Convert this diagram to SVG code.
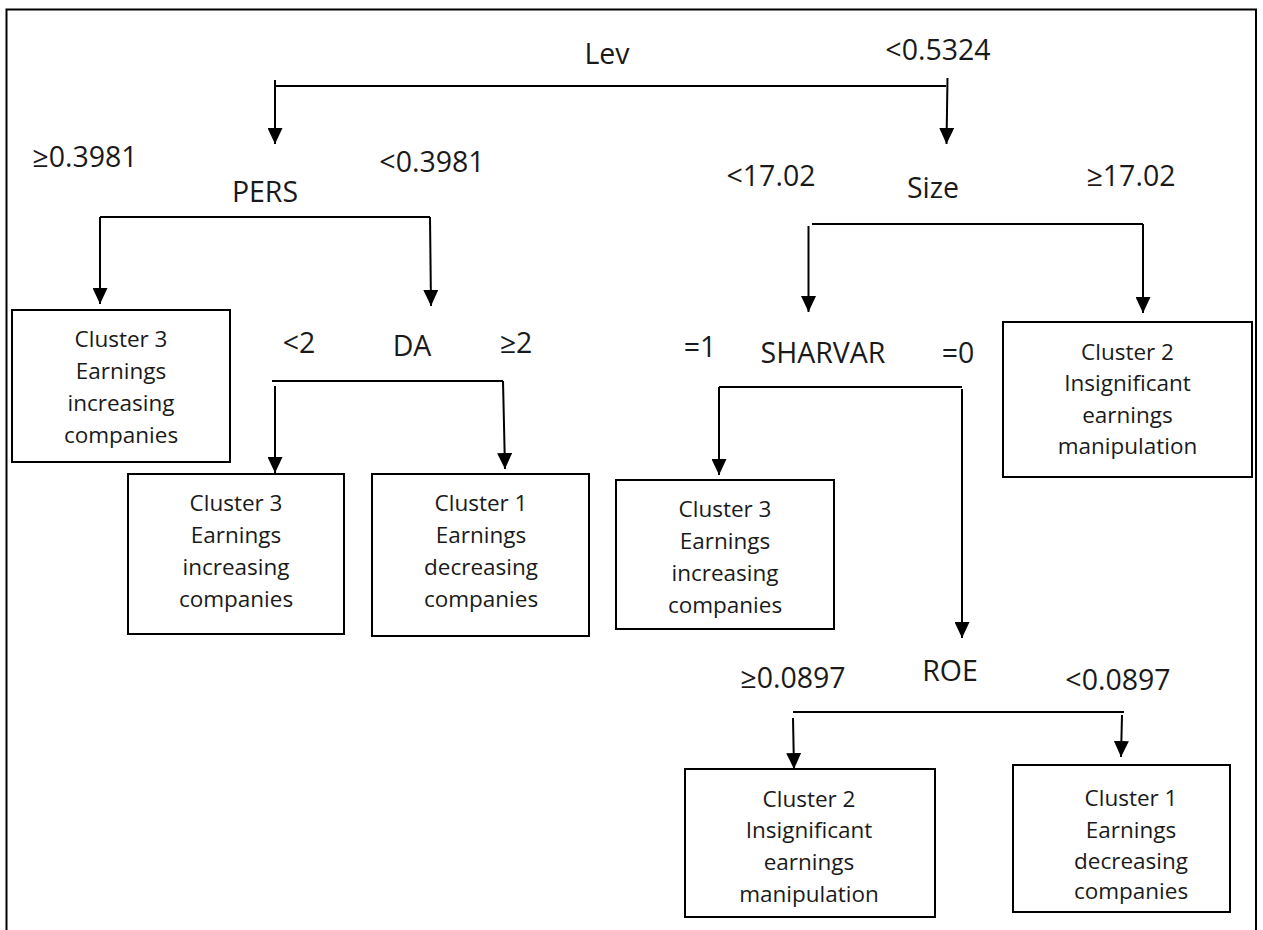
<svg xmlns="http://www.w3.org/2000/svg" width="1263" height="930" viewBox="0 0 1263 930">
<defs>
<style>
.lbl{font-family:"Open Sans","Liberation Sans",sans-serif;font-size:28.5px;fill:#1a1a1a;text-anchor:middle}
.bt{font-family:"Open Sans","Liberation Sans",sans-serif;font-size:22.5px;fill:#1a1a1a;text-anchor:middle}
.box{fill:#fff;stroke:#000;stroke-width:2}
.ln{fill:none;stroke:#000;stroke-width:2}
.arr{fill:none;stroke:#000;stroke-width:2;marker-end:url(#ah)}
</style>
<marker id="ah" markerUnits="userSpaceOnUse" markerWidth="16" markerHeight="15" refX="16" refY="7.5" orient="auto" viewBox="0 0 16 15">
<path d="M0,0 L16,7.5 L0,15 z" fill="#000"/>
</marker>
</defs>
<rect width="1263" height="930" fill="#fff"/>
<path d="M6.5,935 V9.5 H1256 V935" fill="none" stroke="#000" stroke-width="2"/>

<g id="labels">
<text class="lbl" x="607" y="64">Lev</text>
<text class="lbl" x="938" y="60">&lt;0.5324</text>
<text class="lbl" x="85" y="167">≥0.3981</text>
<text class="lbl" x="265" y="202">PERS</text>
<text class="lbl" x="432" y="172">&lt;0.3981</text>
<text class="lbl" x="771" y="186">&lt;17.02</text>
<text class="lbl" x="933" y="198">Size</text>
<text class="lbl" x="1131" y="186">≥17.02</text>
<text class="lbl" x="299" y="353">&lt;2</text>
<text class="lbl" x="412" y="356">DA</text>
<text class="lbl" x="516" y="353">≥2</text>
<text class="lbl" x="700" y="357">=1</text>
<text class="lbl" x="823" y="363">SHARVAR</text>
<text class="lbl" x="958" y="363">=0</text>
<text class="lbl" x="950" y="681">ROE</text>
<text class="lbl" x="793" y="688">≥0.0897</text>
<text class="lbl" x="1118" y="690">&lt;0.0897</text>
</g>

<g id="connectors">
<path class="ln" d="M275,80 V86 H946"/>
<path class="arr" d="M275,86 V144"/>
<path class="arr" d="M947.5,78 L946.5,144"/>
<path class="ln" d="M100,217 H430"/>
<path class="arr" d="M100,217 V304"/>
<path class="arr" d="M430,217 L431,306"/>
<path class="ln" d="M272,381 H503"/>
<path class="arr" d="M275,386 V473"/>
<path class="arr" d="M503,381 L505,469"/>
<path class="ln" d="M812,224 H1143"/>
<path class="arr" d="M808.5,226 V312"/>
<path class="arr" d="M1143,224 V313"/>
<path class="ln" d="M719,387 H962"/>
<path class="arr" d="M719,387 V475"/>
<path class="arr" d="M962,389 V638"/>
<path class="ln" d="M793,712 H1124"/>
<path class="arr" d="M793,718 L794,769"/>
<path class="arr" d="M1122,715 L1121,757"/>
</g>

<g id="n-c3-left">
<rect class="box" x="12" y="310" width="218" height="152"/>
<text class="bt" x="121" y="347">Cluster 3</text>
<text class="bt" x="121" y="379">Earnings</text>
<text class="bt" x="121" y="411">increasing</text>
<text class="bt" x="121" y="443">companies</text>
</g>

<g id="n-c3-da">
<rect class="box" x="128" y="474" width="216" height="160"/>
<text class="bt" x="236" y="511">Cluster 3</text>
<text class="bt" x="236" y="543">Earnings</text>
<text class="bt" x="236" y="575">increasing</text>
<text class="bt" x="236" y="607">companies</text>
</g>

<g id="n-c1-da">
<rect class="box" x="372" y="474" width="217" height="162"/>
<text class="bt" x="481" y="511">Cluster 1</text>
<text class="bt" x="481" y="543">Earnings</text>
<text class="bt" x="481" y="575">decreasing</text>
<text class="bt" x="481" y="607">companies</text>
</g>

<g id="n-c2-size">
<rect class="box" x="1003" y="322" width="249" height="155"/>
<text class="bt" x="1127.5" y="360">Cluster 2</text>
<text class="bt" x="1127.5" y="391">Insignificant</text>
<text class="bt" x="1127.5" y="423">earnings</text>
<text class="bt" x="1127.5" y="454">manipulation</text>
</g>

<g id="n-c3-sharvar">
<rect class="box" x="616" y="480" width="218" height="149"/>
<text class="bt" x="725" y="517">Cluster 3</text>
<text class="bt" x="725" y="549">Earnings</text>
<text class="bt" x="725" y="581">increasing</text>
<text class="bt" x="725" y="613">companies</text>
</g>

<g id="n-c2-roe">
<rect class="box" x="685" y="769" width="250" height="148"/>
<text class="bt" x="809" y="807">Cluster 2</text>
<text class="bt" x="809" y="838">Insignificant</text>
<text class="bt" x="809" y="870">earnings</text>
<text class="bt" x="809" y="902">manipulation</text>
</g>

<g id="n-c1-roe">
<rect class="box" x="1013" y="765" width="217" height="147"/>
<text class="bt" x="1131" y="806">Cluster 1</text>
<text class="bt" x="1131" y="838">Earnings</text>
<text class="bt" x="1131" y="869">decreasing</text>
<text class="bt" x="1131" y="899">companies</text>
</g>
</svg>
